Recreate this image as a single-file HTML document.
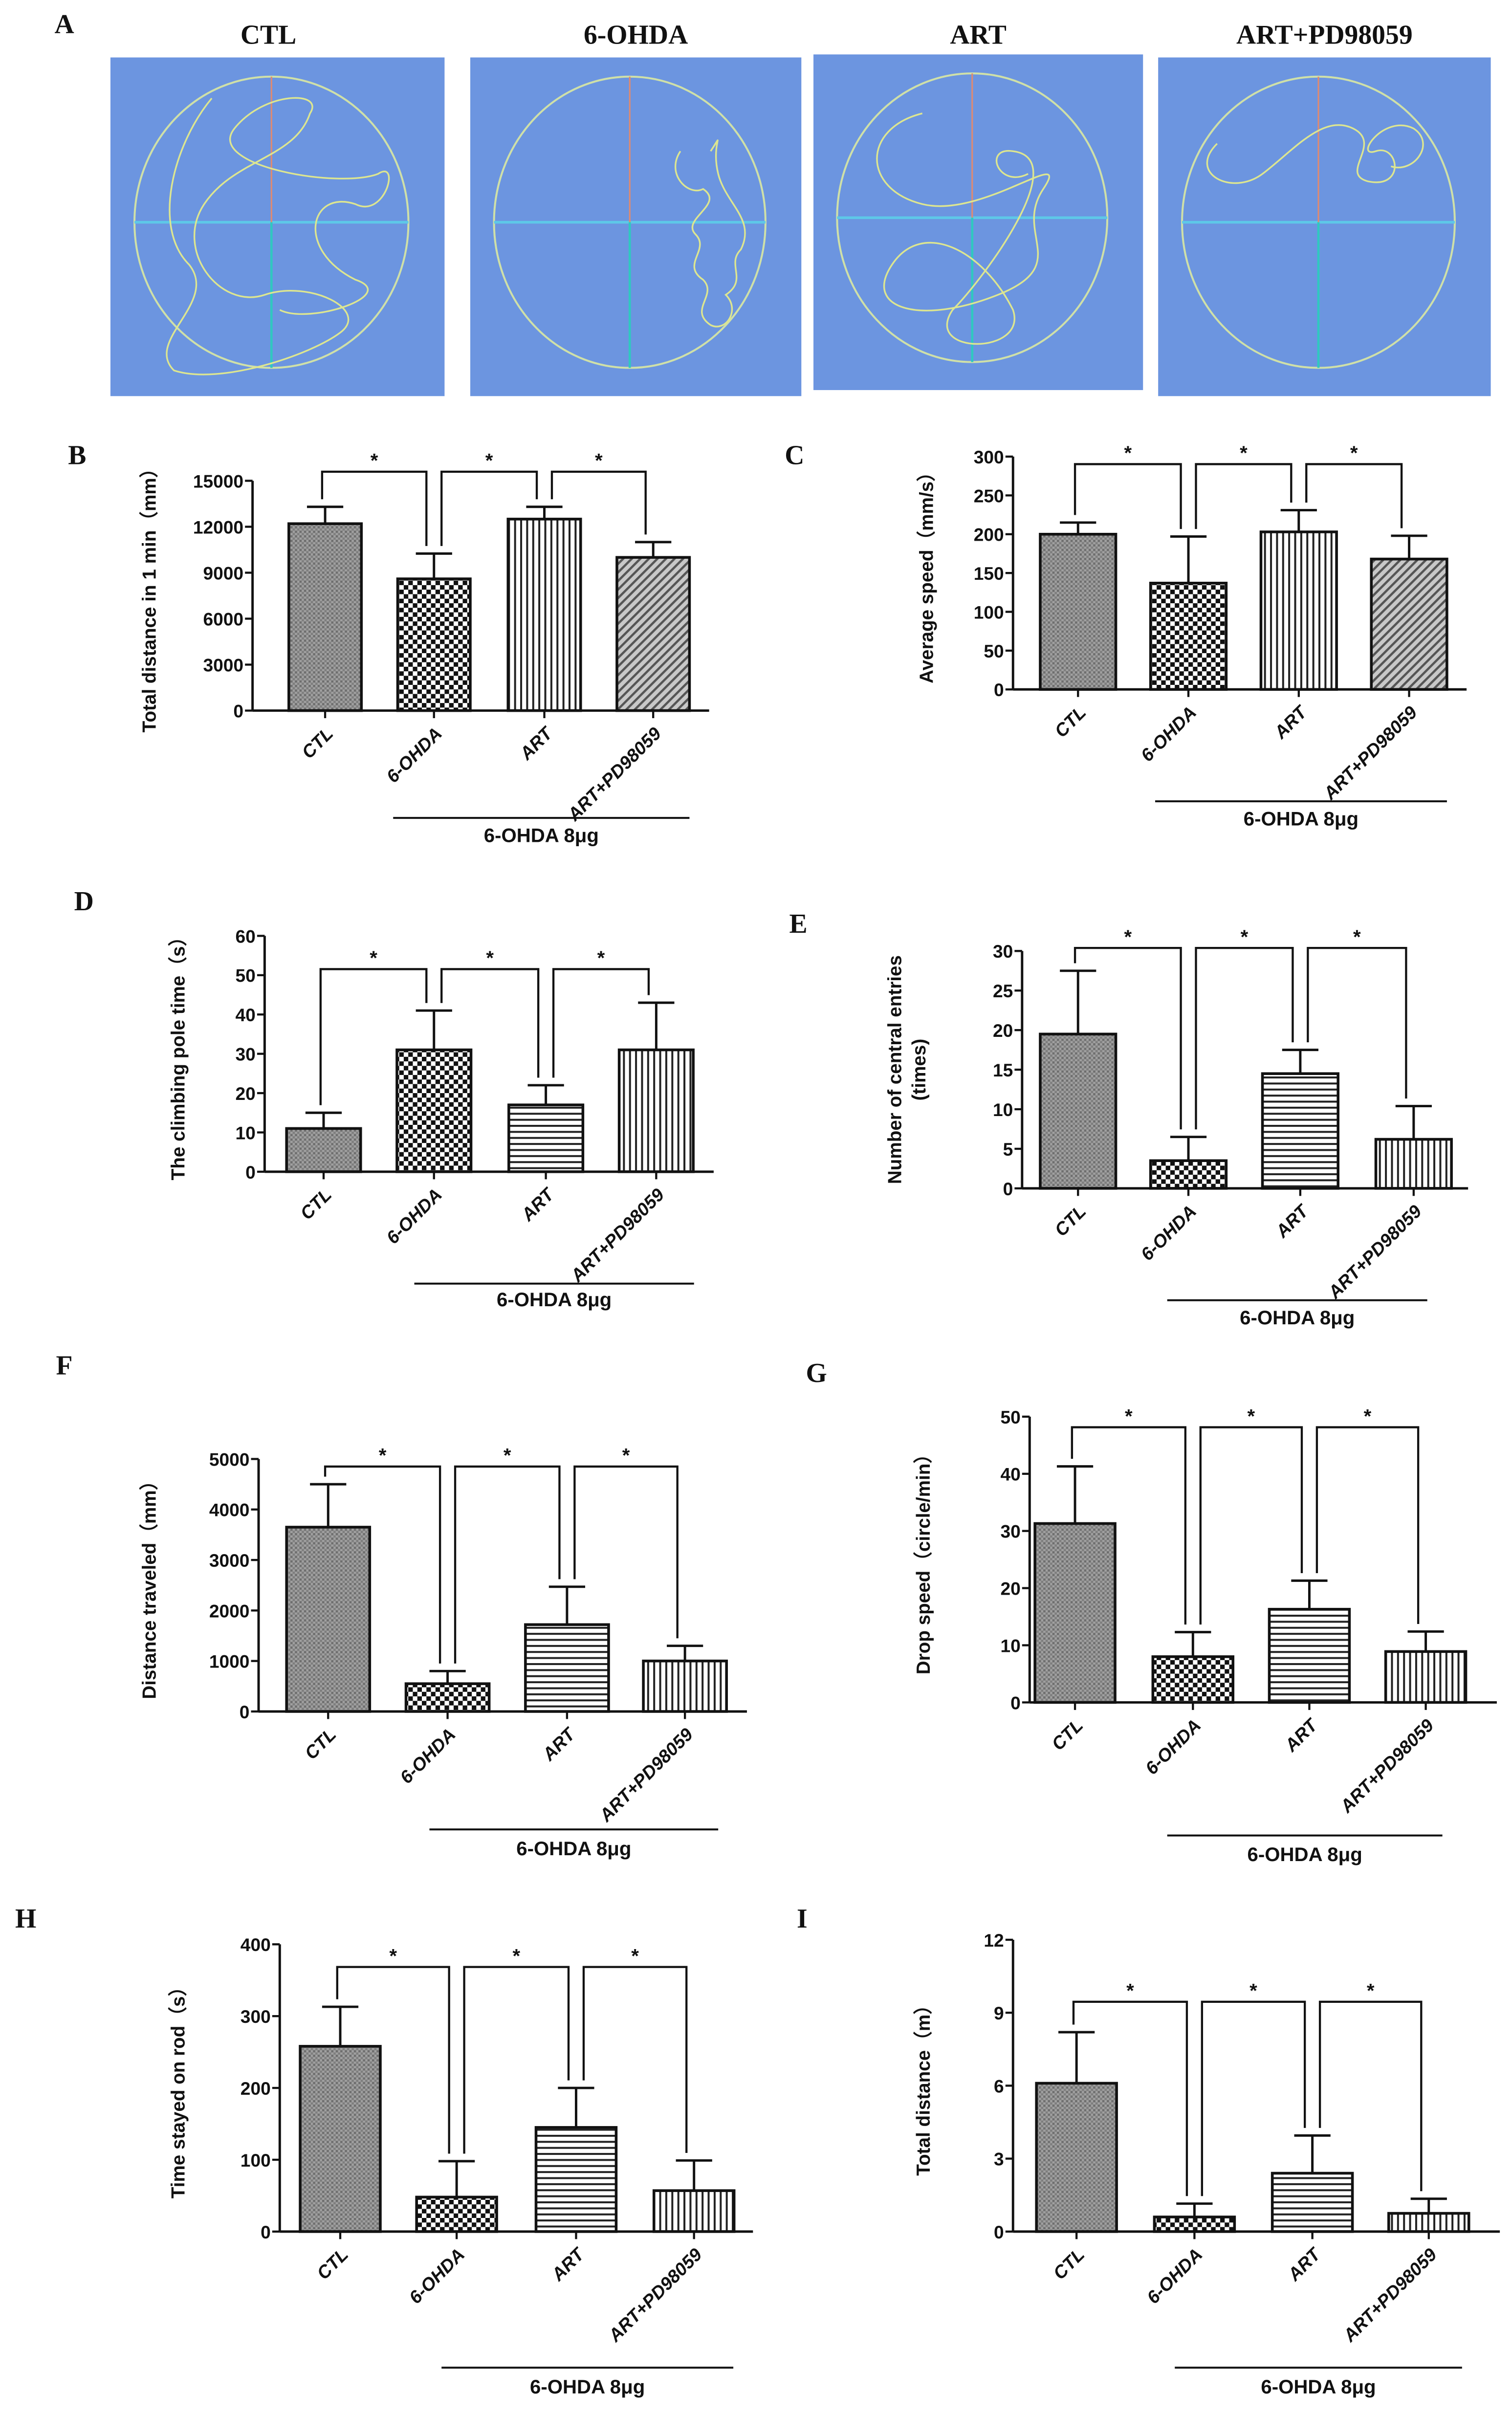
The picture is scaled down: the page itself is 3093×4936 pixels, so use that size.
<!DOCTYPE html>
<html><head><meta charset="utf-8"><style>
html,body{margin:0;padding:0;background:#fff;}
svg{display:block;}
text{font-family:"Liberation Sans",Arial,sans-serif;font-weight:bold;fill:#111;}
.pl{font-family:"Liberation Serif",serif;font-weight:bold;font-size:18px;}
</style></head><body>
<svg id="fig" xmlns="http://www.w3.org/2000/svg" width="3093" height="4936" viewBox="0 0 1000 1596">
<defs>
<pattern id="pCTL" width="3" height="3" patternUnits="userSpaceOnUse"><rect width="3" height="3" fill="#a0a0a0"/><rect width="1.5" height="1.5" fill="#6e6e6e"/><rect x="1.5" y="1.5" width="1.5" height="1.5" fill="#7e7e7e"/></pattern>
<pattern id="pCHK" width="6" height="6" patternUnits="userSpaceOnUse"><rect width="6" height="6" fill="#fff"/><rect width="3" height="3" fill="#111"/><rect x="3" y="3" width="3" height="3" fill="#111"/></pattern>
<pattern id="pV" width="4" height="4" patternUnits="userSpaceOnUse"><rect width="4" height="4" fill="#fff"/><rect width="1.3" height="4" fill="#222"/></pattern>
<pattern id="pH" width="4" height="4" patternUnits="userSpaceOnUse"><rect width="4" height="4" fill="#fff"/><rect width="4" height="1.3" fill="#222"/></pattern>
<pattern id="pD" width="4" height="4" patternUnits="userSpaceOnUse" patternTransform="rotate(45)"><rect width="4" height="4" fill="#c8c8c8"/><rect width="1.5" height="4" fill="#555"/></pattern>
</defs>
<g id="panelA">
<text class="pl" x="36" y="22">A</text>
</g>
<g id="charts"></g>
</svg>
<script>
const NS="http://www.w3.org/2000/svg";
function mk(tag,attrs,parent){const e=document.createElementNS(NS,tag);for(const k in attrs)e.setAttribute(k,attrs[k]);parent.appendChild(e);return e;}

// ---- Panel A track plots ----
const trackTitles=["CTL","6-OHDA","ART","ART+PD98059"];
const trackBoxes=[[73,38,221,224],[311,38,219,224],[538,36,218,222],[766,38,220,224]];
const trackPaths=[
"M140,65 C115,95 100,150 125,175 C145,200 95,225 115,245 C145,255 205,235 225,220 C245,205 205,185 175,195 C145,205 115,165 135,135 C155,105 195,105 205,75 C215,60 175,60 155,85 C135,110 225,125 250,115 C265,105 255,145 235,135 C205,125 195,165 235,185 C265,195 205,215 185,205",
"M450,100 C440,115 455,130 465,125 C480,135 450,145 460,155 C470,165 450,175 465,185 C475,195 455,205 470,215 C480,220 490,205 480,195 C495,185 480,175 490,165 C500,145 480,135 475,115 C470,95 480,85 470,100",
"M610,75 C570,85 570,125 610,135 C650,145 710,95 690,125 C670,155 710,175 660,195 C610,215 570,205 590,175 C610,145 650,165 670,205 C680,235 610,235 630,205 C650,185 710,105 670,100 C650,97 660,125 680,115",
"M805,95 C785,115 815,130 835,115 C855,100 875,75 895,85 C915,95 885,115 905,120 C930,125 925,95 910,100 C895,105 915,75 935,85 C950,95 935,115 920,110"];
const gA=document.getElementById('panelA');
trackBoxes.forEach((b,i)=>{
  const g=mk('g',{},gA);
  
  
  const t=mk('text',{x:b[0]+b[2]/2+(i==0?-6:0),y:29,'text-anchor':'middle','font-size':'17',class:'pl'},g);t.textContent=trackTitles[i];
  
  
  mk('rect',{x:b[0],y:b[1],width:b[2],height:b[3],fill:'#6c95e0'},g);
  const cx=b[0]+b[2]/2-4, cy=b[1]+b[3]/2-3, rx=b[2]*0.41, ry=b[3]*0.43;
  mk('ellipse',{cx:cx,cy:cy,rx:rx,ry:ry,fill:'none',stroke:'#cfe0a8','stroke-width':1.3},g);
  mk('line',{x1:cx-rx,y1:cy,x2:cx+rx,y2:cy,stroke:'#5ec8e8','stroke-width':1.8},g);
  mk('line',{x1:cx,y1:cy-ry,x2:cx,y2:cy,stroke:'#e08a70','stroke-width':1},g);
  mk('line',{x1:cx,y1:cy,x2:cx,y2:cy+ry,stroke:'#30c8c0','stroke-width':1.5},g);
  mk('path',{d:trackPaths[i],fill:'none',stroke:'#dde690','stroke-width':1.1},g);
});

// ---- Bar chart data ----
const groups=["CTL","6-OHDA","ART","ART+PD98059"];
const valsB=[12200,8600,12500,10000], errB=[1100,1650,800,1000], ticksB=[0,3000,6000,9000,12000,15000];
const valsC=[200,137,203,168], errC=[15,60,28,30], ticksC=[0,50,100,150,200,250,300];
const valsD=[11,31,17,31], errD=[4,10,5,12], ticksD=[0,10,20,30,40,50,60];
const valsE=[19.5,3.5,14.5,6.2], errE=[8,3,3,4.2], ticksE=[0,5,10,15,20,25,30];
const valsF=[3650,550,1720,1000], errF=[850,250,750,300], ticksF=[0,1000,2000,3000,4000,5000];
const valsG=[31.3,8,16.3,8.9], errG=[10,4.3,5,3.5], ticksG=[0,10,20,30,40,50];
const valsH=[258,48,145,57], errH=[55,50,55,42], ticksH=[0,100,200,300,400];
const valsI=[6.1,0.6,2.4,0.75], errI=[2.1,0.55,1.55,0.6], ticksI=[0,3,6,9,12];

const panels=[
 {id:'b',vals:valsB,err:errB,ticks:ticksB,title:['Total distance in 1 min（mm）'],tx:99,ax:167,top:318,bot:470,xend:469,centers:[215,287,360,432],bw:48,brY:312,lab:[45,307],ul:[260,456,541,557],pats:['pCTL','pCHK','pV','pD']},
 {id:'c',vals:valsC,err:errC,ticks:ticksC,title:['Average speed（mm/s）'],tx:613,ax:670,top:302,bot:456,xend:970,centers:[713,786,859,932],bw:50,brY:307,lab:[519,307],ul:[764,957,530,546],pats:['pCTL','pCHK','pV','pD']},
 {id:'d',vals:valsD,err:errD,ticks:ticksD,title:['The climbing pole time（s）'],tx:118,ax:175,top:619,bot:775,xend:472,centers:[214,287,361,434],bw:49,brY:641,lab:[49,602],ul:[274,459,849,864],pats:['pCTL','pCHK','pH','pV']},
 {id:'e',vals:valsE,err:errE,ticks:ticksE,title:['Number of central entries','(times)'],tx:600,ax:676,top:629,bot:786,xend:971,centers:[713,786,860,935],bw:50,brY:627,lab:[522,617],ul:[772,944,860,876],pats:['pCTL','pCHK','pH','pV']},
 {id:'f',vals:valsF,err:errF,ticks:ticksF,title:['Distance traveled（mm）'],tx:99,ax:171,top:965,bot:1132,xend:494,centers:[217,296,375,453],bw:55,brY:970,lab:[37,909],ul:[284,475,1210,1227],pats:['pCTL','pCHK','pH','pV']},
 {id:'g',vals:valsG,err:errG,ticks:ticksG,title:['Drop speed（circle/min）'],tx:611,ax:681,top:937,bot:1126,xend:990,centers:[711,789,866,943],bw:53,brY:944,lab:[533,914],ul:[772,954,1214,1231],pats:['pCTL','pCHK','pH','pV']},
 {id:'h',vals:valsH,err:errH,ticks:ticksH,title:['Time stayed on rod（s）'],tx:118,ax:185,top:1286,bot:1476,xend:498,centers:[225,302,381,459],bw:53,brY:1301,lab:[10,1275],ul:[292,485,1566,1583],pats:['pCTL','pCHK','pH','pV']},
 {id:'i',vals:valsI,err:errI,ticks:ticksI,title:['Total distance（m）'],tx:611,ax:670,top:1283,bot:1476,xend:992,centers:[712,790,868,945],bw:53,brY:1324,lab:[527,1275],ul:[777,967,1566,1583],pats:['pCTL','pCHK','pH','pV']}
];

const root=document.getElementById('charts');
panels.forEach(p=>{
  const g=mk('g',{},root);
  
  
  const tmax=p.ticks[p.ticks.length-1];
  const y=v=>p.bot-(v/tmax)*(p.bot-p.top);
  const L=mk('text',{x:p.lab[0],y:p.lab[1],class:'pl'},g);L.textContent=p.id.toUpperCase();
  
  
  const ya=mk('line',{x1:p.ax,y1:p.top,x2:p.ax,y2:p.bot,stroke:'#111','stroke-width':1.6},g);
  
  
  p.ticks.forEach(t=>{
    mk('line',{x1:p.ax-5,y1:y(t),x2:p.ax,y2:y(t),stroke:'#111','stroke-width':1.4},g);
    const tl=mk('text',{x:p.ax-6,y:y(t)+4.5,'text-anchor':'end','font-size':12},g);tl.textContent=t;
    
    
  });
  p.title.forEach((line,k)=>{
    const off=(k-(p.title.length-1)/2)*16;
    const ttl=mk('text',{x:0,y:0,'text-anchor':'middle','font-size':12.5,transform:`translate(${p.tx+off+4},${(p.top+p.bot)/2}) rotate(-90)`},g);ttl.textContent=line;
    
    
  });
  p.vals.forEach((v,i)=>{
    const c=p.centers[i];
    const et=y(v+p.err[i]);
    mk('line',{x1:c,y1:y(v),x2:c,y2:et,stroke:'#111','stroke-width':1.6},g);
    mk('line',{x1:c-12,y1:et,x2:c+12,y2:et,stroke:'#111','stroke-width':1.6},g);
    const r=mk('rect',{x:c-p.bw/2,y:y(v),width:p.bw,height:p.bot-y(v),fill:`url(#${p.pats[i]})`,stroke:'#111','stroke-width':1.8},g);
    
    
    mk('line',{x1:c,y1:p.bot,x2:c,y2:p.bot+5,stroke:'#111','stroke-width':1.4},g);
    const xl=mk('text',{x:0,y:0,'text-anchor':'end','font-size':12,'font-style':'italic',transform:`translate(${c+6},${p.bot+16}) rotate(-45)`},g);xl.textContent=groups[i];
    
    
  });
  const xa=mk('line',{x1:p.ax,y1:p.bot,x2:p.xend,y2:p.bot,stroke:'#111','stroke-width':1.6},g);
  
  
  for(let i=0;i<3;i++){
    const x1=p.centers[i]+(i>0?5:-2), x2=p.centers[i+1]-5;
    const b1=y(p.vals[i]+p.err[i])-5, b2=y(p.vals[i+1]+p.err[i+1])-5;
    const br=mk('path',{d:`M${x1},${b1} V${p.brY} H${x2} V${b2}`,fill:'none',stroke:'#111','stroke-width':1.4},g);
    
    
    const st=mk('text',{x:(x1+x2)/2,y:p.brY-3,'text-anchor':'middle','font-size':13},g);st.textContent='*';
    
    
  }
  mk('line',{x1:p.ul[0],y1:p.ul[2],x2:p.ul[1],y2:p.ul[2],stroke:'#111','stroke-width':1.3},g);
  const ut=mk('text',{x:(p.ul[0]+p.ul[1])/2,y:p.ul[3],'text-anchor':'middle','font-size':13},g);ut.textContent='6-OHDA 8μg';
  
  
});
</script>
</body></html>
